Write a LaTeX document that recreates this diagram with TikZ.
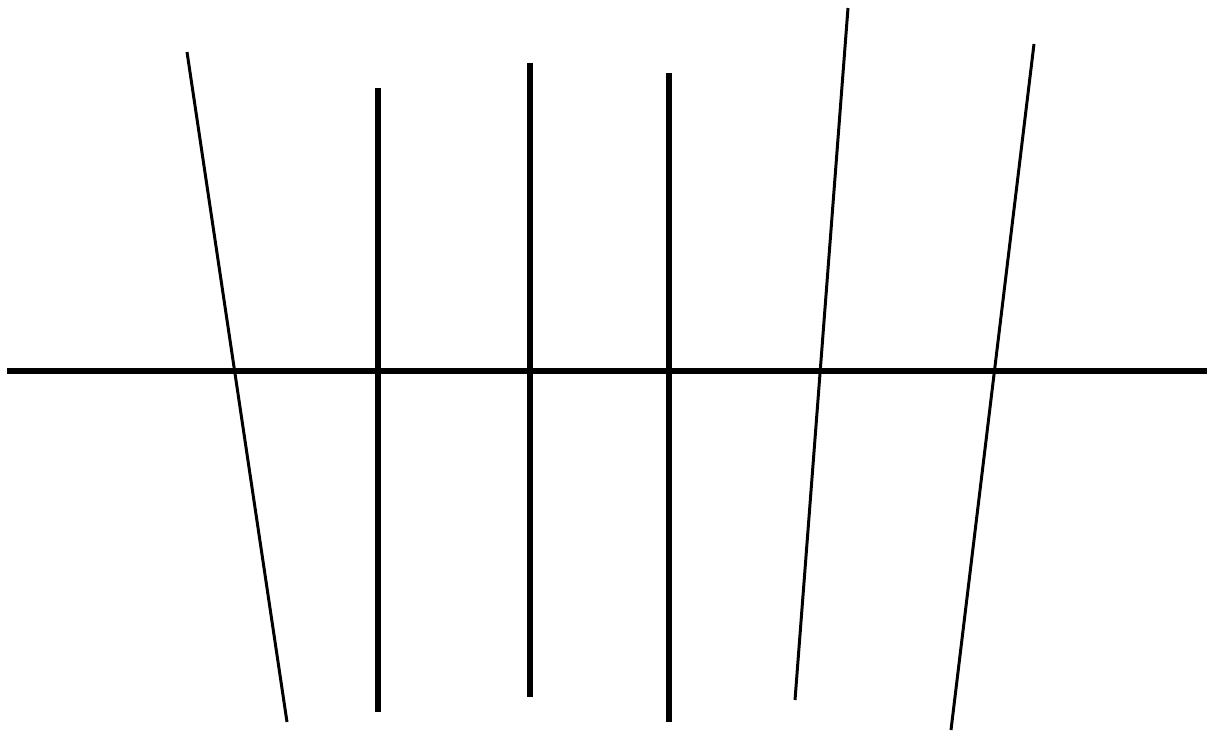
\documentclass[tikz,border=0pt]{standalone}
\usepackage{tikz}
\begin{document}
\begin{tikzpicture}[x=0.02cm,y=-0.02cm,
  axisline/.style={black,line width=3.8pt},
  uprightline/.style={black,line width=3.2pt},
  slantline/.style={black,line width=1.7pt}]
  \useasboundingbox (0,0) rectangle (1211,732);
  \coordinate (L) at (7,371);
  \coordinate (R) at (1207,371);
  \draw[axisline] (L) -- (R);
  \foreach \i/\xa/\ya/\xb/\yb/\st in {1/187/52/287/722/slantline,2/378/88/378/712/uprightline,3/530/63/530/697/uprightline,4/669/73/669/722/uprightline,5/848/8/795/700/slantline,6/1034/44/951/730/slantline}{
    \coordinate (T\i) at (\xa,\ya);
    \coordinate (B\i) at (\xb,\yb);
    \draw[\st] (T\i) -- (B\i);
  }
\end{tikzpicture}
\end{document}
